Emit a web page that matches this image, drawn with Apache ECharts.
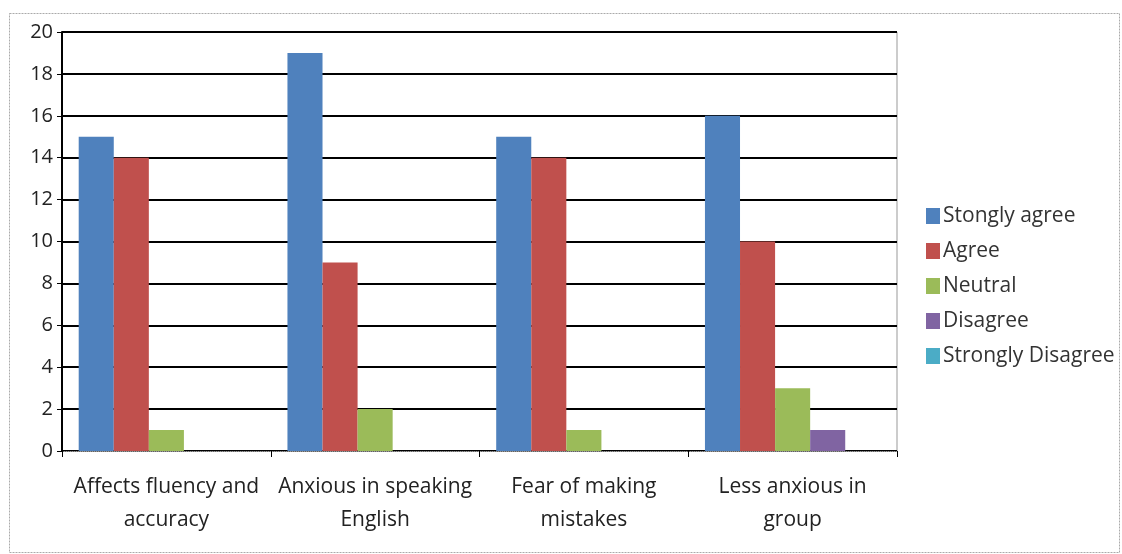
<!DOCTYPE html>
<html lang="en">
<head>
    <meta charset="UTF-8">
    <title>Survey chart</title>
    <style>
        html,body{margin:0;padding:0;background:#fff;}
        #chart{width:1122px;height:554px;}
    </style>
</head>
<body>
<div id="chart"></div>
<script src="https://cdn.jsdelivr.net/npm/echarts@6/dist/echarts.min.js"></script>
<script>
    var categories = ['Affects fluency and\naccuracy', 'Anxious in speaking\nEnglish', 'Fear of making\nmistakes', 'Less anxious in\ngroup'];
    var seriesNames = ['Stongly agree', 'Agree', 'Neutral', 'Disagree', 'Strongly Disagree'];
    var stronglyAgree = [15, 19, 15, 16];
    var agree = [14, 9, 14, 10];
    var neutral = [1, 2, 1, 3];
    var disagree = [0, 0, 0, 1];
    var stronglyDisagree = [0, 0, 0, 0];
    var colors = ['#4f81bd', '#c0504d', '#9bbb59', '#8064a2', '#4bacc6'];
    var fontFamily = 'Open Sans';

    var values = [stronglyAgree, agree, neutral, disagree, stronglyDisagree];
    var series = seriesNames.map(function (name, i) {
        return {
            name: name,
            type: 'bar',
            data: values[i],
            barGap: '0%',
            barCategoryGap: '16%',
            itemStyle: {color: colors[i]}
        };
    });

    var chart = echarts.init(document.getElementById('chart'));
    chart.setOption({
        animation: false,
        color: colors,
        textStyle: {fontFamily: fontFamily},
        graphic: [{
            type: 'rect',
            shape: {x: 9.5, y: 13.5, width: 1110, height: 539},
            style: {fill: 'none', stroke: '#aaa', lineWidth: 1, lineDash: [2, 1]},
            z: -1
        }],
        grid: {left: 62, right: 225, top: 32, bottom: 103, show: true, borderColor: '#999', borderWidth: 1},
        legend: {
            orient: 'vertical',
            left: 921,
            top: 197,
            itemGap: 7,
            itemWidth: 14,
            itemHeight: 16,
            icon: 'rect',
            data: seriesNames,
            textStyle: {fontSize: 21, lineHeight: 28, color: '#333', fontFamily: fontFamily, padding: [0, 0, 0, -2]}
        },
        xAxis: {
            type: 'category',
            data: categories,
            axisLine: {lineStyle: {color: '#999', width: 1, type: 'dotted'}},
            axisTick: {show: true, length: 6, lineStyle: {color: '#000'}},
            axisLabel: {fontSize: 21, color: '#222', lineHeight: 33, margin: 20, interval: 0}
        },
        yAxis: {
            type: 'value',
            min: 0,
            max: 20,
            interval: 2,
            axisLine: {show: true, lineStyle: {color: '#000', width: 2}},
            axisTick: {show: true, length: 5, lineStyle: {color: '#000'}},
            axisLabel: {fontSize: 20, color: '#222', margin: 9},
            splitLine: {lineStyle: {color: '#000', width: 2}}
        },
        series: series
    });
</script>
</body>
</html>
